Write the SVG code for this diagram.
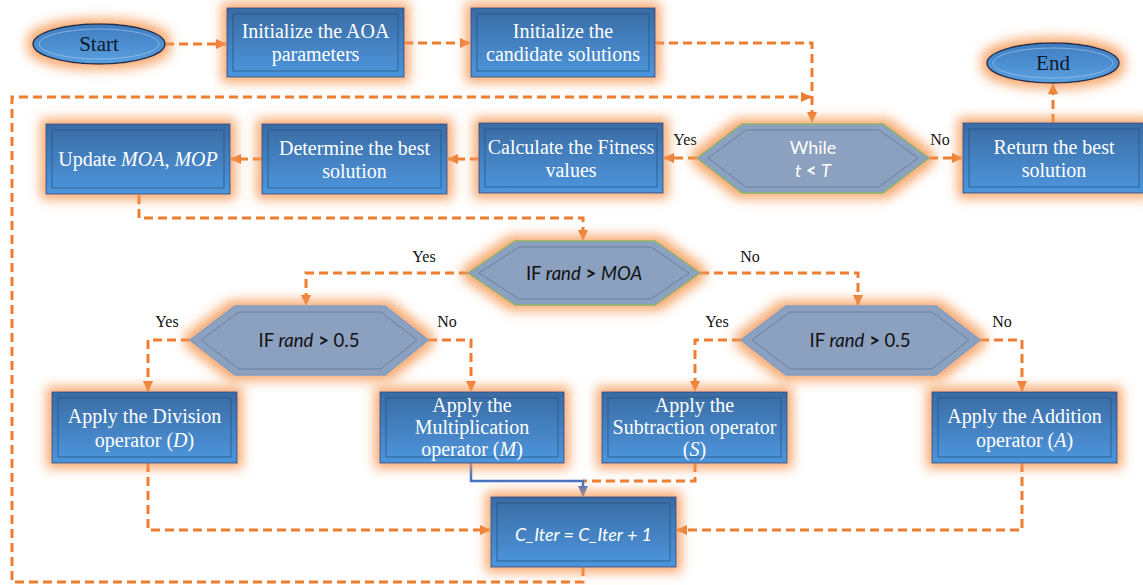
<svg xmlns="http://www.w3.org/2000/svg" width="1143" height="585" viewBox="0 0 1143 585">
<defs>
<linearGradient id="gBox" x1="0" y1="0" x2="0" y2="1">
<stop offset="0" stop-color="#3a6ba3"/>
<stop offset="1" stop-color="#4d96dd"/>
</linearGradient>
<linearGradient id="gEll" x1="0" y1="0" x2="0" y2="1">
<stop offset="0" stop-color="#3f7cc0"/>
<stop offset="1" stop-color="#5aa0e0"/>
</linearGradient>
<filter id="glow" x="-25%" y="-50%" width="150%" height="200%">
<feMorphology in="SourceAlpha" operator="dilate" radius="5" result="d"/>
<feGaussianBlur in="d" stdDeviation="6" result="b"/>
<feFlood flood-color="#f59a55" flood-opacity="0.85"/>
<feComposite in2="b" operator="in" result="g"/>
<feMerge><feMergeNode in="g"/><feMergeNode in="SourceGraphic"/></feMerge>
</filter>
<marker id="ah" markerUnits="userSpaceOnUse" markerWidth="12" markerHeight="10" refX="10" refY="5" orient="auto">
<path d="M0,0 L11,5 L0,10 z" fill="#ed7d31"/>
</marker>
<marker id="ahb" markerUnits="userSpaceOnUse" markerWidth="12" markerHeight="10" refX="10" refY="5" orient="auto">
<path d="M0,0 L11,5 L0,10 z" fill="#4472c4"/>
</marker>
<style>
.box{fill:url(#gBox);stroke:#2b5485;stroke-width:1;filter:url(#glow)}
.inner{fill:none;stroke:#24507e;stroke-opacity:0.7;stroke-width:1}
.ell{fill:url(#gEll);stroke:#1c2f4a;stroke-width:1.5;filter:url(#glow)}
.ellin{fill:none;stroke:#9cc4ea;stroke-opacity:0.7;stroke-width:1}
.hex{fill:#8ca0bf;stroke:#7e9ec0;stroke-width:1.5;filter:url(#glow)}
.hexg{fill:#8ca0bf;stroke:#8fb36a;stroke-width:1.5;filter:url(#glow)}
.hexin{fill:none;stroke:#62789a;stroke-opacity:0.8;stroke-width:1}
.t{font-family:"Liberation Serif","Times New Roman",serif;font-size:20px;fill:#ffffff;text-anchor:middle}
.te{font-family:"Liberation Serif","Times New Roman",serif;font-size:21px;fill:#0d1a2e;text-anchor:middle}
.th{font-family:Lato,"Open Sans",sans-serif;font-size:18.5px;fill:#111111;text-anchor:middle}
.thw{font-family:Lato,"Open Sans",sans-serif;font-size:18px;fill:#ffffff;text-anchor:middle}
.lbl{font-family:"Liberation Serif","Times New Roman",serif;font-size:16px;fill:#111111;text-anchor:middle}
.c{fill:none;stroke:#ed7d31;stroke-width:3;stroke-dasharray:9 5}
.cb{fill:none;stroke:#4472c4;stroke-width:2.5}
</style>
</defs>
<rect width="1143" height="585" fill="#ffffff"/>

<g id="connectors">
<path class="c" d="M165,44 H226" marker-end="url(#ah)"/>
<path class="c" d="M404,43 H470" marker-end="url(#ah)"/>
<path class="c" d="M655,43 H812 V122" marker-end="url(#ah)"/>
<path class="c" d="M929,158 H962" marker-end="url(#ah)"/>
<path class="c" d="M1053,123 V84" marker-end="url(#ah)"/>
<path class="c" d="M697,158 H664" marker-end="url(#ah)"/>
<path class="c" d="M479,159 H448" marker-end="url(#ah)"/>
<path class="c" d="M262,159 H231" marker-end="url(#ah)"/>
<path class="c" d="M139,195 V218 H583 V240" marker-end="url(#ah)"/>
<path class="c" d="M468,273 H306 V305" marker-end="url(#ah)"/>
<path class="c" d="M700,273 H858 V305" marker-end="url(#ah)"/>
<path class="c" d="M190,340 H148 V391" marker-end="url(#ah)"/>
<path class="c" d="M428,340 H471 V391" marker-end="url(#ah)"/>
<path class="c" d="M741,340 H695 V391" marker-end="url(#ah)"/>
<path class="c" d="M980,340 H1022 V391" marker-end="url(#ah)"/>
<path class="c" d="M148,463 V530 H490" marker-end="url(#ah)"/>
<path class="c" d="M1022,463 V530 H677" marker-end="url(#ah)"/>
<path class="c" d="M695,463 V481 H583"/>
<path class="cb" d="M471,463 V481 H583 V496" marker-end="url(#ahb)"/>
<path class="c" d="M583,567 V582 H12 V97 H811" marker-end="url(#ah)"/>
</g>

<g id="labels">
<text class="lbl" x="685" y="145">Yes</text>
<text class="lbl" x="940" y="145">No</text>
<text class="lbl" x="424" y="262">Yes</text>
<text class="lbl" x="750" y="262">No</text>
<text class="lbl" x="167" y="327">Yes</text>
<text class="lbl" x="447" y="327">No</text>
<text class="lbl" x="717" y="327">Yes</text>
<text class="lbl" x="1002" y="327">No</text>
</g>

<g id="start">
<ellipse class="ell" cx="99" cy="44" rx="66" ry="20"/>
<ellipse class="ellin" cx="99" cy="44" rx="60" ry="15"/>
<text class="te" x="99" y="51">Start</text>
</g>

<g id="init-aoa">
<rect class="box" x="227" y="8" width="177" height="69"/>
<rect class="inner" x="233" y="14" width="165" height="57"/>
<text class="t" x="315.5" y="38">Initialize the AOA</text>
<text class="t" x="315.5" y="61">parameters</text>
</g>

<g id="init-candidate">
<rect class="box" x="471" y="8" width="184" height="69"/>
<rect class="inner" x="477" y="14" width="172" height="57"/>
<text class="t" x="563" y="38">Initialize the</text>
<text class="t" x="563" y="61">candidate solutions</text>
</g>

<g id="end">
<ellipse class="ell" cx="1053" cy="63" rx="66" ry="20"/>
<ellipse class="ellin" cx="1053" cy="63" rx="60" ry="15"/>
<text class="te" x="1053" y="70">End</text>
</g>

<g id="while">
<polygon class="hexg" points="697,158 742,124 883,124 929,158 883,193 742,193"/>
<polygon class="hexin" points="708,158 746,130 879,130 918,158 879,187 746,187"/>
<text class="thw" x="813" y="154">While</text>
<text class="thw" x="813" y="177"><tspan font-style="italic">t</tspan> <tspan font-weight="bold">&lt;</tspan> <tspan font-style="italic">T</tspan></text>
</g>

<g id="return">
<rect class="box" x="963" y="123" width="182" height="70"/>
<rect class="inner" x="969" y="129" width="170" height="58"/>
<text class="t" x="1054" y="154">Return the best</text>
<text class="t" x="1054" y="177">solution</text>
</g>

<g id="fitness">
<rect class="box" x="479" y="123" width="184" height="70"/>
<rect class="inner" x="485" y="129" width="172" height="58"/>
<text class="t" x="571" y="154">Calculate the Fitness</text>
<text class="t" x="571" y="177">values</text>
</g>

<g id="determine">
<rect class="box" x="262" y="124" width="185" height="70"/>
<rect class="inner" x="268" y="130" width="173" height="58"/>
<text class="t" x="354.5" y="155">Determine the best</text>
<text class="t" x="354.5" y="178">solution</text>
</g>

<g id="update">
<rect class="box" x="46" y="124" width="184" height="70"/>
<rect class="inner" x="52" y="130" width="172" height="58"/>
<text class="t" x="138" y="166">Update <tspan font-style="italic">MOA</tspan>, <tspan font-style="italic">MOP</tspan></text>
</g>

<g id="if-moa">
<polygon class="hexg" points="468,273 515,241 655,241 700,273 655,305 515,305"/>
<polygon class="hexin" points="479,273 519,247 651,247 689,273 651,299 519,299"/>
<text class="th" x="584" y="280">IF <tspan font-style="italic">rand</tspan> <tspan font-weight="bold">&gt;</tspan> <tspan font-style="italic">MOA</tspan></text>
</g>

<g id="if-left">
<polygon class="hex" points="190,340 235,306 385,306 428,340 385,375 235,375"/>
<polygon class="hexin" points="201,340 239,312 381,312 417,340 381,369 239,369"/>
<text class="th" x="309" y="347">IF <tspan font-style="italic">rand</tspan> <tspan font-weight="bold">&gt;</tspan> 0.5</text>
</g>

<g id="if-right">
<polygon class="hex" points="741,340 786,306 936,306 980,340 936,375 786,375"/>
<polygon class="hexin" points="752,340 790,312 932,312 969,340 932,369 790,369"/>
<text class="th" x="860" y="347">IF <tspan font-style="italic">rand</tspan> <tspan font-weight="bold">&gt;</tspan> 0.5</text>
</g>

<g id="division">
<rect class="box" x="52" y="392" width="185" height="71"/>
<rect class="inner" x="58" y="398" width="173" height="59"/>
<text class="t" x="144.5" y="423">Apply the Division</text>
<text class="t" x="144.5" y="447">operator (<tspan font-style="italic">D</tspan>)</text>
</g>

<g id="multiplication">
<rect class="box" x="380" y="392" width="184" height="71"/>
<rect class="inner" x="386" y="398" width="172" height="59"/>
<text class="t" x="472" y="412">Apply the</text>
<text class="t" x="472" y="434">Multiplication</text>
<text class="t" x="472" y="456">operator (<tspan font-style="italic">M</tspan>)</text>
</g>

<g id="subtraction">
<rect class="box" x="602" y="392" width="185" height="71"/>
<rect class="inner" x="608" y="398" width="173" height="59"/>
<text class="t" x="694.5" y="412">Apply the</text>
<text class="t" x="694.5" y="434">Subtraction operator</text>
<text class="t" x="694.5" y="456">(<tspan font-style="italic">S</tspan>)</text>
</g>

<g id="addition">
<rect class="box" x="932" y="392" width="185" height="71"/>
<rect class="inner" x="938" y="398" width="173" height="59"/>
<text class="t" x="1024.5" y="423">Apply the Addition</text>
<text class="t" x="1024.5" y="447">operator (<tspan font-style="italic">A</tspan>)</text>
</g>

<g id="c-iter">
<rect class="box" x="491" y="497" width="185" height="70"/>
<rect class="inner" x="497" y="503" width="173" height="58"/>
<text class="thw" x="583.5" y="541" font-style="italic" font-size="20.5">C_Iter = C_Iter + 1</text>
</g>
</svg>
